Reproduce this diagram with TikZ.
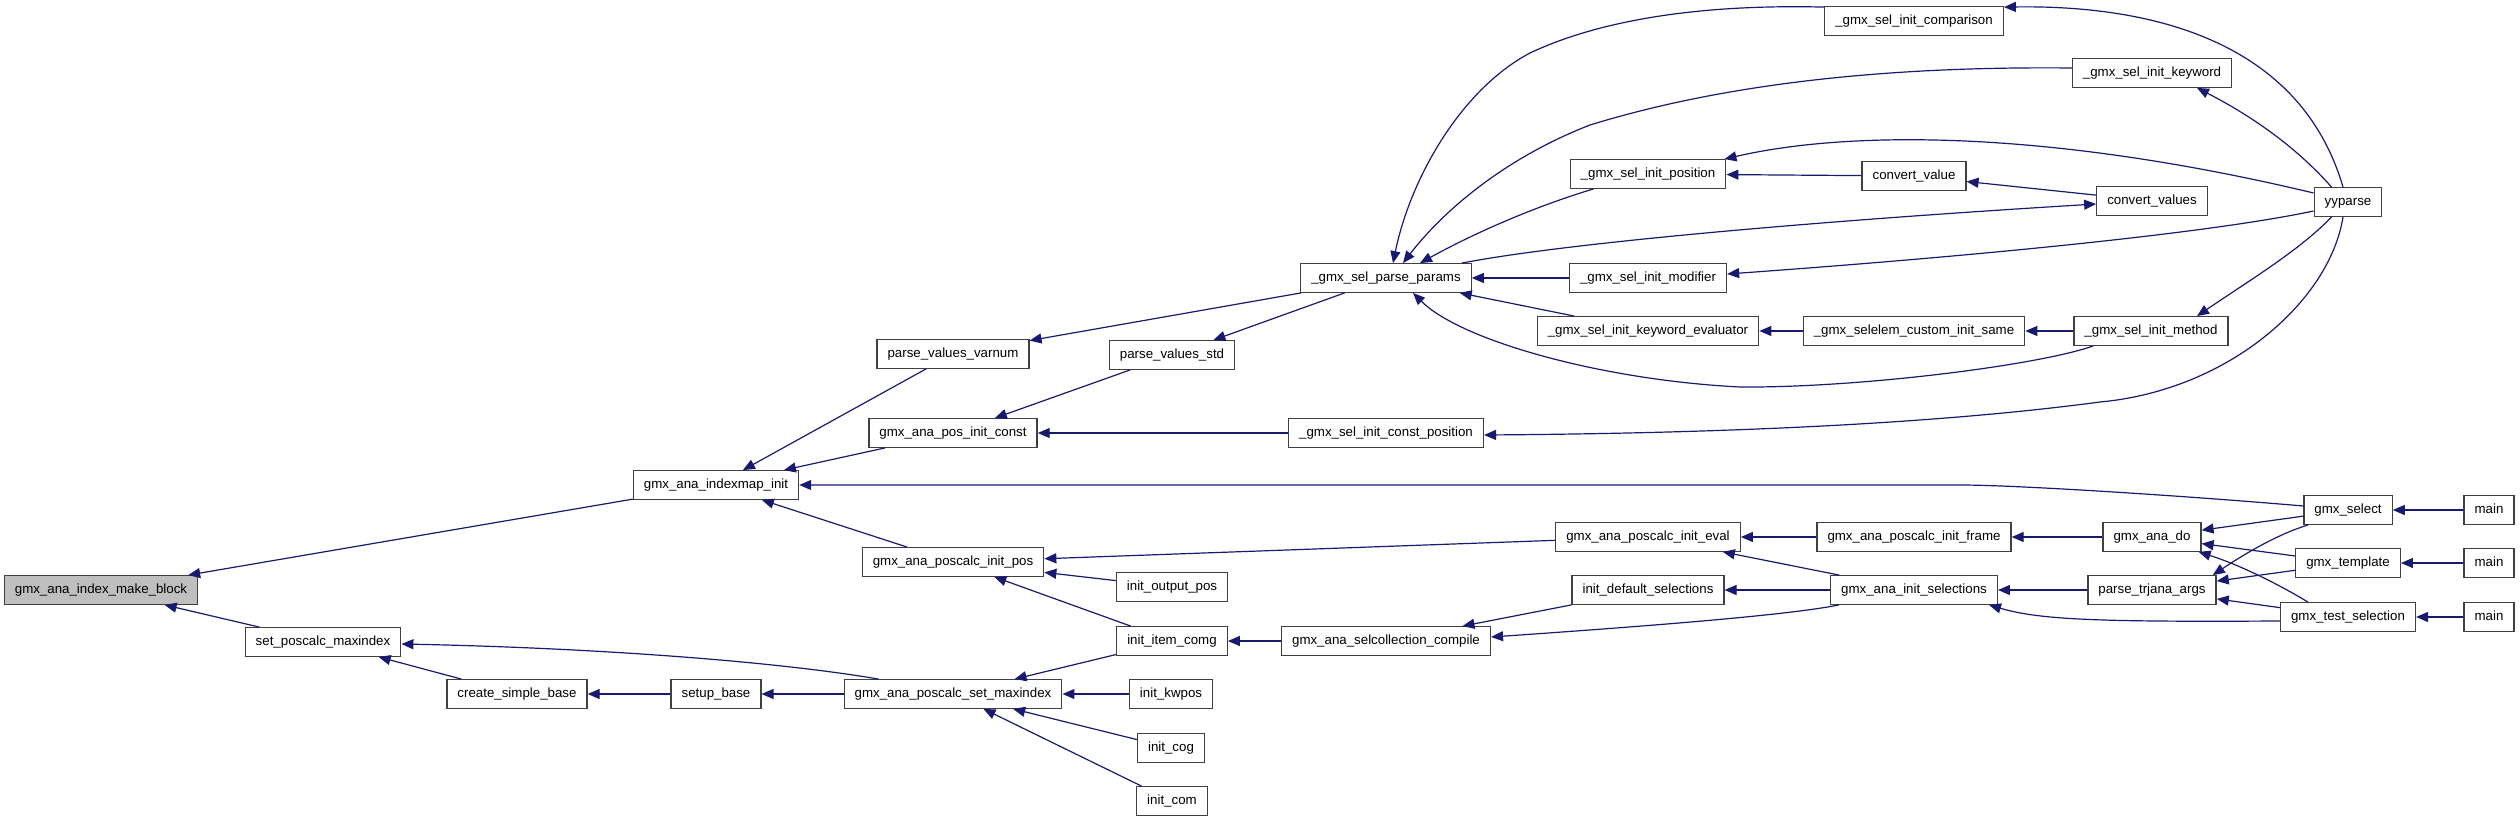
\documentclass[tikz,border=0pt]{standalone}
\usepackage{fontspec}
\setmainfont{Liberation Sans}
\usetikzlibrary{arrows.meta,calc}
\definecolor{edgecol}{HTML}{191970}
\definecolor{bordercol}{HTML}{404040}
\definecolor{focusfill}{HTML}{BFBFBF}
\tikzset{
 fn/.style={draw=bordercol, line width=1.3pt, fill=white, minimum height=28.5pt, inner xsep=10.5pt, inner ysep=0pt, font=\fontsize{13.3}{15}\selectfont, text height=9.9pt, text depth=2.9pt},
 focus/.style={fn, fill=focusfill},
 edge/.style={draw=edgecol, line width=1.2pt, >={Triangle[length=12pt,width=10pt]}, <-},
}
\begin{document}
\begin{tikzpicture}[x=1pt,y=-1pt]
\useasboundingbox (0,0) rectangle (2520,821);
% nodes
\node[focus] (mb) at (101,590) {gmx\_ana\_index\_make\_block};
\node[fn] (imi) at (716,485) {gmx\_ana\_indexmap\_init};
\node[fn] (spm) at (323,642) {set\_poscalc\_maxindex};
\node[fn] (csb) at (517,694) {create\_simple\_base};
\node[fn] (sb) at (716,694) {setup\_base};
\node[fn] (pvv) at (953,354) {parse\_values\_varnum};
\node[fn] (pic) at (953,433) {gmx\_ana\_pos\_init\_const};
\node[fn] (pip) at (953,562) {gmx\_ana\_poscalc\_init\_pos};
\node[fn] (psm) at (953,694) {gmx\_ana\_poscalc\_set\_maxindex};
\node[fn] (pvs) at (1172,355) {parse\_values\_std};
\node[fn] (iop) at (1172,587) {init\_output\_pos};
\node[fn] (iic) at (1172,641) {init\_item\_comg};
\node[fn] (ikw) at (1171,694) {init\_kwpos};
\node[fn] (icg) at (1171,748) {init\_cog};
\node[fn] (icm) at (1172,801) {init\_com};
\node[fn] (spp) at (1386,278) {\_gmx\_sel\_parse\_params};
\node[fn] (icp) at (1386,433) {\_gmx\_sel\_init\_const\_position};
\node[fn] (scc) at (1386,641) {gmx\_ana\_selcollection\_compile};
\node[fn] (ipos) at (1648,174) {\_gmx\_sel\_init\_position};
\node[fn] (imod) at (1648,278) {\_gmx\_sel\_init\_modifier};
\node[fn] (ike) at (1648,331) {\_gmx\_sel\_init\_keyword\_evaluator};
\node[fn] (pie) at (1648,537) {gmx\_ana\_poscalc\_init\_eval};
\node[fn] (ids) at (1648,590) {init\_default\_selections};
\node[fn] (icmp) at (1914,21) {\_gmx\_sel\_init\_comparison};
\node[fn] (cv) at (1914,176) {convert\_value};
\node[fn] (cis) at (1914,331) {\_gmx\_selelem\_custom\_init\_same};
\node[fn] (pif) at (1914,537) {gmx\_ana\_poscalc\_init\_frame};
\node[fn] (ais) at (1914,590) {gmx\_ana\_init\_selections};
\node[fn] (ikey) at (2152,73) {\_gmx\_sel\_init\_keyword};
\node[fn] (cvs) at (2152,201) {convert\_values};
\node[fn] (imeth) at (2151,331) {\_gmx\_sel\_init\_method};
\node[fn] (ado) at (2152,537) {gmx\_ana\_do};
\node[fn] (pta) at (2152,590) {parse\_trjana\_args};
\node[fn] (yy) at (2348,202) {yyparse};
\node[fn] (gsel) at (2348,510) {gmx\_select};
\node[fn] (gtpl) at (2348,563) {gmx\_template};
\node[fn] (gts) at (2348,617) {gmx\_test\_selection};
\node[fn] (m1) at (2489,510) {main};
\node[fn] (m2) at (2489,563) {main};
\node[fn] (m3) at (2489,617) {main};
% edges
\draw[edge] (mb) -- (imi);
\draw[edge] (mb) -- (spm);
\draw[edge] (imi) -- (pvv);
\draw[edge] (imi) -- (pic);
\draw[edge] (imi.east) -- (1960,485) .. controls (2020,485) and (2200,497) .. ([yshift=4pt]gsel.west);
\draw[edge] (imi) -- (pip);
\draw[edge] (spm) -- (csb);
\draw[edge] ([yshift=-2pt]spm.east) .. controls (600,648) and (780,662) .. ($(psm.north west)+(35,0)$);
\draw[edge] (csb) -- (sb);
\draw[edge] (sb) -- (psm);
\draw[edge] (pvv) -- (spp);
\draw[edge] (pic) -- (pvs);
\draw[edge] (pic) -- (icp);
\draw[edge] (pvs) -- (spp);
\draw[edge] (pip) -- (pie);
\draw[edge] (pip) -- (iop);
\draw[edge] (pip) -- (iic);
\draw[edge] (psm) -- (iic);
\draw[edge] (psm) -- (ikw);
\draw[edge] (psm) -- (icg);
\draw[edge] (psm) -- (icm);
\draw[edge] (iic) -- (scc);
\draw[edge] (scc) -- (ids);
\draw[edge] ([yshift=4pt]scc.east) .. controls (1650,626) and (1790,615) .. ($(ais.south west)+(9,0)$);
\draw[edge] ($(spp.north)+(7,0)$) .. controls (1410,180) and (1460,90) .. (1530,53) .. controls (1600,20) and (1700,4) .. ($(icmp.north west)+(0,1)$);
\draw[edge] ($(spp.north)+(17,0)$) .. controls (1440,215) and (1500,160) .. (1590,125) .. controls (1720,85) and (1880,66) .. ([yshift=5pt]ikey.west);
\draw[edge] ($(spp.north)+(34,0)$) .. controls (1480,230) and (1540,205) .. ($(ipos.south west)+(24,0)$);
\draw[edge] ([yshift=-3pt]cvs.west) .. controls (1800,222) and (1560,244) .. ($(spp.north east)+(-10,0)$);
\draw[edge] (ipos) -- (cv);
\draw[edge] (cv) -- (cvs);
\draw[edge] ($(ipos.north east)+(-2,0)$) .. controls (1850,130) and (2050,130) .. ([yshift=9pt]yy.west);
\draw[edge] (spp) -- (imod);
\draw[edge] (spp) -- (ike);
\draw[edge] ($(spp.south)+(27,0)$) .. controls (1460,340) and (1600,380) .. (1740,387) .. controls (1860,388) and (2040,365) .. ($(imeth.south west)+(20,0)$);
\draw[edge] (ike) -- (cis);
\draw[edge] (cis) -- (imeth);
\draw[edge] ($(icmp.north east)+(0,1)$) .. controls (2150,5) and (2300,40) .. ($(yy.north)+(-5,0)$);
\draw[edge] ($(ikey.south)+(45,0)$) .. controls (2240,110) and (2290,140) .. ($(yy.north west)+(18,0)$);
\draw[edge] ([yshift=4pt]imod.east) .. controls (1950,258) and (2200,235) .. ([yshift=-9pt]yy.west);
\draw[edge] ($(imeth.north)+(46,0)$) .. controls (2250,280) and (2300,250) .. ($(yy.south west)+(18,0)$);
\draw[edge] ([yshift=-2pt]icp.east) .. controls (1750,433) and (1950,422) .. (2100,402) .. controls (2230,390) and (2330,300) .. ($(yy.south)+(-5,0)$);
\draw[edge] (pie) -- (pif);
\draw[edge] (pie) -- (ais);
\draw[edge] (ids) -- (ais);
\draw[edge] (pif) -- (ado);
\draw[edge] (ais) -- (pta);
\draw[edge] ($(ais.south east)+(-9,0)$) .. controls (2040,620) and (2100,622) .. ([yshift=-4pt]gts.west);
\draw[edge] (ado) -- (gsel);
\draw[edge] (ado) -- (gtpl);
\draw[edge] ($(ado.south east)+(-3,0)$) .. controls (2240,565) and (2280,585) .. ($(gts.north west)+(28,0)$);
\draw[edge] ($(pta.north east)+(-4,0)$) .. controls (2240,557) and (2275,535) .. ($(gsel.south west)+(5,0)$);
\draw[edge] (pta) -- (gtpl);
\draw[edge] (pta) -- (gts);
\draw[edge] (gsel) -- (m1);
\draw[edge] (gtpl) -- (m2);
\draw[edge] (gts) -- (m3);
\end{tikzpicture}
\end{document}
